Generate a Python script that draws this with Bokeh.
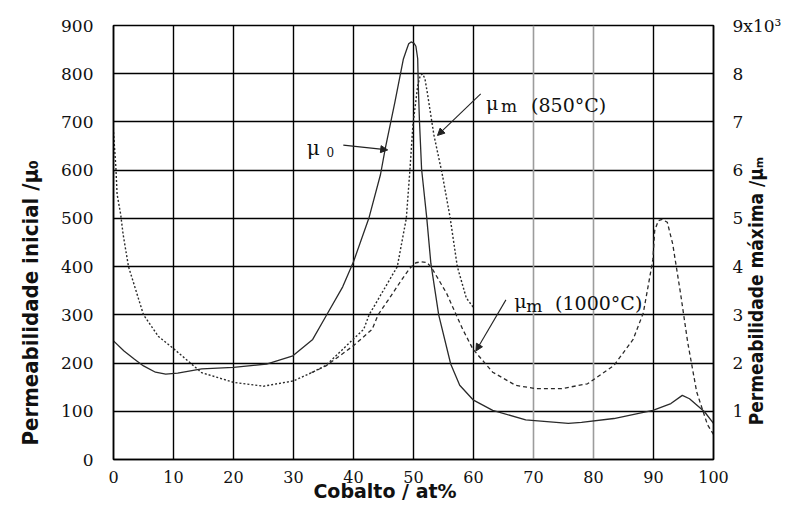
from bokeh.plotting import figure
from bokeh.models import Range1d, LinearAxis, FixedTicker, Grid, Label, Arrow, NormalHead, Title
from bokeh.embed import file_html
from bokeh.resources import INLINE
import math

# ---------------- data ----------------
x_ticks = [0, 10, 20, 30, 40, 50, 60, 70, 80, 90, 100]
y_ticks = [0, 100, 200, 300, 400, 500, 600, 700, 800, 900]
right_ticks = [1, 2, 3, 4, 5, 6, 7, 8, 9]
right_tick_labels = {9: "9x10\u00b3"}
grid_x_dark = [10, 20, 30, 40, 50, 60, 90]
grid_x_light = [70, 80]
grid_y = [100, 200, 300, 400, 500, 600, 700, 800]

# initial permeability mu0 (left axis)
mu0_x = [0, 1.75, 3.5, 5, 7.0, 8.7, 10.7, 14.7, 20, 25.5, 29.9, 33.2, 35.4, 38.2, 40,
         42.6, 44.5, 45.3, 46.9, 48.3, 48.8, 49.2, 49.6, 50.1, 50.4, 50.7, 50.8, 51.0,
         51.35, 52.2, 52.9, 54.2, 56.2, 57.7, 60, 63.2, 68.7, 75.8, 78.0, 83.4, 89.9,
         92.9, 94.8, 96.0, 98.5, 100]
mu0_y = [246, 225, 208, 194, 181, 177, 179, 188, 191, 198, 215, 249, 297, 358, 410,
         502, 591, 645, 741, 830, 848, 862, 866, 863, 857, 831, 775, 700,
         602, 502, 406, 300, 198, 154, 123, 102, 82, 75, 77, 85, 102,
         116, 133, 126, 99, 75]

# maximum permeability, 850 C (right axis in 10^3, drawn on the left scale)
m850_x = [0, 0.4, 0.6, 1.2, 1.6, 2.5, 5, 7.5, 10, 14.7, 20, 25, 30, 33, 35.4, 40, 41.7,
          42.6, 47.3, 48.8, 49.35, 49.9, 50.7, 51.1, 51.5, 51.9, 52.3, 53.4, 54.8,
          56.1, 57.3, 58.8, 60]
m850_y = [679, 605, 550, 508, 467, 400, 300, 255, 230, 180, 160, 152, 163, 180, 195, 250, 270,
          300, 400, 500, 591, 693, 775, 795, 800, 790, 761, 673, 591,
          502, 400, 335, 315]

# maximum permeability, 1000 C
m1000_x = [33, 35.4, 40, 43.1, 44.1, 45.8, 48, 49.35, 50.4, 51.3, 52.3, 53.1, 55.5, 58.2,
           59.9, 63.2, 67, 70.3, 74.7, 79, 83.4, 86.6, 88.3, 89.1, 89.9, 90.2, 90.8,
           91.4, 92.3, 93.2, 94.5, 95.7, 97.2, 99, 100]
m1000_y = [180, 194, 236, 270, 300, 331, 372, 396, 408, 410, 408, 396, 345, 270,
           229, 181, 154, 147, 147, 157, 195, 249, 304, 359, 415, 475, 495,
           498, 492, 447, 345, 243, 140, 72, 52]

# ---------------- figure ----------------
p = figure(width=781, height=504, x_range=Range1d(0, 100), y_range=Range1d(0, 900),
           output_backend="svg", toolbar_location=None,
           min_border_left=113, min_border_right=68, min_border_top=25, min_border_bottom=42)
p.background_fill_color = "white"
p.border_fill_color = "white"
p.outline_line_color = "black"
p.outline_line_width = 1.5

SERIF = "DejaVu Serif"
COND = "'DejaVu Sans Condensed', Roboto, sans-serif"


def try_set(obj, name, val):
    try:
        setattr(obj, name, val)
    except Exception:
        pass


def style_axis(ax, size="17px"):
    ax.major_tick_line_color = None
    ax.minor_tick_line_color = None
    ax.axis_line_color = "black"
    ax.axis_line_width = 1.5
    ax.major_label_text_font = SERIF
    ax.major_label_text_font_size = size
    ax.major_label_text_color = "#111111"
    ax.axis_label_text_color = "#111111"


xa = p.xaxis[0]
ya = p.yaxis[0]
style_axis(xa, "16px")
style_axis(ya)
xa.ticker = FixedTicker(ticks=x_ticks)
ya.ticker = FixedTicker(ticks=y_ticks)
xa.major_label_standoff = 5
ya.major_label_standoff = 14

xa.axis_label = "Cobalto / at%\u2002\u2002\u2002\u2002\u2002\u2002"
xa.axis_label_text_font = "DejaVu Sans"
xa.axis_label_text_font_style = "bold"
xa.axis_label_text_font_size = "19px"
xa.axis_label_standoff = -6

# left title (outside the y axis tick labels)
p.add_layout(Title(text="Permeabilidade inicial /\u03bc\u2080", align="left", offset=14,
                   standoff=31, text_font=COND, text_font_style="bold",
                   text_font_size="22px", text_color="#111111"), "left")

p.extra_y_ranges = {"r": Range1d(0, 9)}
rax = LinearAxis(y_range_name="r", ticker=FixedTicker(ticks=right_ticks),
                 major_label_overrides=right_tick_labels)
style_axis(rax)
rax.major_label_standoff = 13
rax.axis_label = "\u2002\u2002\u2002\u2002Permeabilidade m\u00e1xima /\u03bc\u2098"
rax.axis_label_text_font = COND
rax.axis_label_text_font_style = "bold"
rax.axis_label_text_font_size = "19px"
rax.axis_label_standoff = -28
try_set(rax, "axis_label_orientation", math.pi / 2)
try_set(rax, "axis_label_align", "start")
p.add_layout(rax, "right")

p.xgrid.visible = False
p.ygrid.ticker = FixedTicker(ticks=grid_y)
p.ygrid.grid_line_color = "black"
p.ygrid.grid_line_width = 1.4
p.add_layout(Grid(dimension=0, ticker=FixedTicker(ticks=grid_x_dark),
                  grid_line_color="black", grid_line_width=1.4))
p.add_layout(Grid(dimension=0, ticker=FixedTicker(ticks=grid_x_light),
                  grid_line_color="#9c9c9c", grid_line_width=1.6))

# ---------------- curves ----------------
p.line(mu0_x, mu0_y, line_color="#2a2a2a", line_width=1.3)
p.line(m850_x, m850_y, line_color="#2a2a2a", line_width=1.4, line_dash="2 2")
p.line(m1000_x, m1000_y, line_color="#2a2a2a", line_width=1.3, line_dash="4 3")

# ---------------- annotations (inside the frame) ----------------
def lab(x, y, t, size):
    p.add_layout(Label(x=x, y=y, text=t, text_font=SERIF, text_font_size=size,
                       text_align="left", text_baseline="alphabetic", text_color="#111111"))


def arrow(x0, y0, x1, y1):
    p.add_layout(Arrow(end=NormalHead(size=7, fill_color="#222222", line_color="#222222"),
                       x_start=x0, y_start=y0, x_end=x1, y_end=y1,
                       line_color="#222222", line_width=1.1))


# mu0
lab(32.2, 646, "\u03bc", "20px")
lab(35.5, 637, "0", "12px")
arrow(38.3, 652, 45.7, 642)
# mu_m (850 C)
lab(62.1, 740, "\u03bc", "19px")
lab(64.6, 733, "m", "17px")
lab(69.6, 736, "(850\u00b0C)", "19px")
arrow(61.2, 758, 54.0, 672)
# mu_m (1000 C)
lab(66.8, 328, "\u03bc", "19px")
lab(68.8, 318, "m", "17px")
lab(73.6, 324, "(1000\u00b0C)", "19px")
arrow(65.4, 331, 60.4, 225)

open("out.html", "w").write(file_html(p, INLINE))
